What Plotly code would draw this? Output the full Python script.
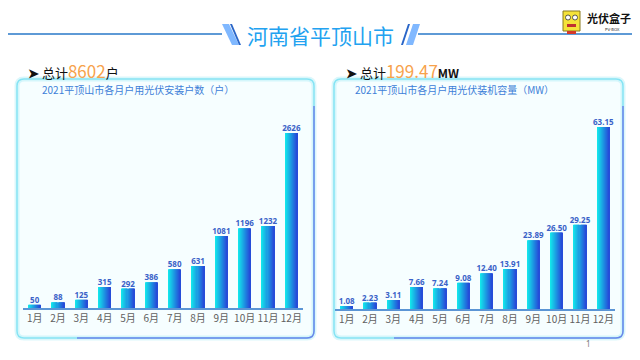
import plotly.graph_objects as go

months = ["1月", "2月", "3月", "4月", "5月", "6月", "7月", "8月", "9月", "10月", "11月", "12月"]
households = [50, 88, 125, 315, 292, 386, 580, 631, 1081, 1196, 1232, 2626]
capacity_mw = [1.08, 2.23, 3.11, 7.66, 7.24, 9.08, 12.40, 13.91, 23.89, 26.50, 29.25, 63.15]
household_labels = [str(v) for v in households]
capacity_labels = [f"{v:.2f}" for v in capacity_mw]

title_text = "河南省平顶山市"
left_sub = "2021平顶山市各月户用光伏安装户数（户）"
right_sub = "2021平顶山市各月户用光伏装机容量（MW）"
total_households = "8602"
total_capacity = "199.47"

# the page body has an 8px margin, so the figure is drawn 8px in from the window corner
OFF = 8
W, H = 640 - OFF, 360 - OFF
FONT = "Noto Sans CJK SC, Noto Sans, sans-serif"


def px(x):
    return (x - OFF) / W


def py(y):
    return 1 - (y - OFF) / H


def lerp_color(c1, c2, t):
    a = [int(c1[i:i + 2], 16) for i in (1, 3, 5)]
    b = [int(c2[i:i + 2], 16) for i in (1, 3, 5)]
    r = [round(a[k] + (b[k] - a[k]) * t) for k in range(3)]
    return "#%02x%02x%02x" % tuple(r)


fig = go.Figure()
xs = list(range(len(months)))
N = 12
BW = 0.52
c_left, c_right = "#12ECEC", "#2646D8"


def add_bars(values, labels, xa, ya):
    for i in range(N):
        t = (i + 0.5) / N
        fig.add_trace(go.Bar(
            x=xs, y=values, width=BW / N, offset=-BW / 2 + i * BW / N,
            marker=dict(color=lerp_color(c_left, c_right, t), line=dict(width=0)),
            xaxis=xa, yaxis=ya, showlegend=False, hoverinfo="skip"))
    fig.add_trace(go.Scatter(
        x=xs, y=values, mode="text", text=labels, textposition="top center",
        textfont=dict(size=8, color="#3A62C8", family="Noto Sans, sans-serif", weight="bold"),
        xaxis=xa, yaxis=ya, showlegend=False, hoverinfo="skip"))


add_bars(households, household_labels, "x", "y")
add_bars(capacity_mw, capacity_labels, "x2", "y2")

axis_common = dict(
    tickmode="array", tickvals=xs, ticktext=months, range=[-0.5, 11.5],
    showgrid=False, zeroline=False, showline=True, linecolor="#5B95D5", linewidth=1.5,
    ticks="", tickfont=dict(size=10, color="#606060", family=FONT), fixedrange=True)
yaxis_common = dict(visible=False, showgrid=False, zeroline=False, fixedrange=True)

fig.update_layout(
    width=W, height=H, margin=dict(l=0, r=0, t=0, b=0),
    paper_bgcolor="white", plot_bgcolor="rgba(0,0,0,0)",
    barmode="overlay",
    xaxis=dict(domain=[px(23), px(303)], anchor="y", **axis_common),
    yaxis=dict(domain=[py(308), py(100)], range=[0, 3121], anchor="x", **yaxis_common),
    xaxis2=dict(domain=[px(335), px(615)], anchor="y2", **axis_common),
    yaxis2=dict(domain=[py(309), py(100)], range=[0, 72.5], anchor="x2", **yaxis_common),
)


def rrect_path(x0, y0, x1, y1, r):
    X = lambda v: f"{px(v):.5f}"
    Y = lambda v: f"{py(v):.5f}"
    return (f"M {X(x0 + r)},{Y(y0)} L {X(x1 - r)},{Y(y0)} Q {X(x1)},{Y(y0)} {X(x1)},{Y(y0 + r)} "
            f"L {X(x1)},{Y(y1 - r)} Q {X(x1)},{Y(y1)} {X(x1 - r)},{Y(y1)} "
            f"L {X(x0 + r)},{Y(y1)} Q {X(x0)},{Y(y1)} {X(x0)},{Y(y1 - r)} "
            f"L {X(x0)},{Y(y0 + r)} Q {X(x0)},{Y(y0)} {X(x0 + r)},{Y(y0)} Z")


def br_path(x0, y0, x1, y1, r):
    X = lambda v: f"{px(v):.5f}"
    Y = lambda v: f"{py(v):.5f}"
    return (f"M {X(x1)},{Y(y0 + r + 20)} L {X(x1)},{Y(y1 - r)} Q {X(x1)},{Y(y1)} {X(x1 - r)},{Y(y1)} "
            f"L {X(x0 + 60)},{Y(y1)}")


shapes = []
# soft glow under left panel
for k, a in enumerate((0.10, 0.16, 0.24)):
    shapes.append(dict(type="rect", xref="paper", yref="paper", x0=px(92 + 3 * k), x1=px(163 - 3 * k),
                       y0=py(336 - k), y1=py(328 + k),
                       fillcolor=f"rgba(150,240,240,{a})", line=dict(width=0), layer="below"))

for (x0, y0, x1, y1) in [(17, 79, 314, 338), (334, 79, 623, 338)]:
    shapes.append(dict(type="path", path=rrect_path(x0, y0, x1, y1, 7), xref="paper", yref="paper",
                       line=dict(color="rgba(110,225,240,0.25)", width=5), fillcolor="#F6FEFF", layer="below"))
    shapes.append(dict(type="path", path=rrect_path(x0, y0, x1, y1, 7), xref="paper", yref="paper",
                       line=dict(color="#86E4F4", width=1.5), fillcolor="rgba(0,0,0,0)", layer="below"))
    shapes.append(dict(type="path", path=br_path(x0, y0, x1, y1, 7), xref="paper", yref="paper",
                       line=dict(color="#6D86EA", width=1.5), layer="below"))

# header lines
shapes.append(dict(type="line", xref="paper", yref="paper", x0=0, x1=px(222), y0=py(34), y1=py(34),
                   line=dict(color="#2878C8", width=1.5)))
shapes.append(dict(type="line", xref="paper", yref="paper", x0=px(418), x1=1, y0=py(34), y1=py(34),
                   line=dict(color="#2878C8", width=1.5)))


def para(xt0, xt1, xb0, xb1, yt, yb, color):
    return dict(type="path", xref="paper", yref="paper",
                path=f"M {px(xt0):.5f},{py(yt):.5f} L {px(xt1):.5f},{py(yt):.5f} L {px(xb1):.5f},{py(yb):.5f} L {px(xb0):.5f},{py(yb):.5f} Z",
                fillcolor=color, line=dict(width=0))


# left "\\" slashes
shapes.append(para(222, 229, 232, 239, 24, 45, "#80B8FF"))
shapes.append(para(230, 232, 239, 241, 24, 45, "#2A66C8"))
# right "//" slashes
shapes.append(para(408, 410, 401, 403, 24, 45, "#2A66C8"))
shapes.append(para(413, 420, 406, 413, 24, 45, "#80B8FF"))

# logo
shapes.append(dict(type="rect", xref="paper", yref="paper", x0=px(563), x1=px(580), y0=py(31), y1=py(11),
                   fillcolor="#F5E23A", line=dict(color="#8A7A20", width=1)))
shapes.append(dict(type="rect", xref="paper", yref="paper", x0=px(567), x1=px(576), y0=py(34), y1=py(31),
                   fillcolor="#D43A2A", line=dict(width=0)))
for cx in (568, 575):
    shapes.append(dict(type="circle", xref="paper", yref="paper", x0=px(cx - 2.5), x1=px(cx + 2.5),
                       y0=py(20), y1=py(15), fillcolor="white", line=dict(color="#333", width=0.8)))
shapes.append(dict(type="rect", xref="paper", yref="paper", x0=px(567), x1=px(576), y0=py(27), y1=py(24),
                   fillcolor="#C03030", line=dict(width=0)))

fig.update_layout(shapes=shapes)

ann = []
ann.append(dict(x=px(320), y=py(35), xref="paper", yref="paper", text=title_text, showarrow=False,
                font=dict(size=21, color="#22A2F0", family=FONT), xanchor="center", yanchor="middle"))
ann.append(dict(x=px(585), y=py(18), xref="paper", yref="paper", text="<b>光伏盒子</b>", showarrow=False,
                font=dict(size=11, color="#111", family=FONT), xanchor="left", yanchor="middle"))
ann.append(dict(x=px(622), y=py(29), xref="paper", yref="paper", text="PV-BOX", showarrow=False,
                font=dict(size=4, color="#333", family="DejaVu Sans"), xanchor="right", yanchor="middle"))

ann.append(dict(x=px(26), y=py(70), xref="paper", yref="paper",
                text=f"<b>➤</b> 总计<span style='color:#F7A24C;font-size:17px'>{total_households}</span>户",
                showarrow=False, font=dict(size=13, color="#111", family=FONT), xanchor="left", yanchor="middle"))
ann.append(dict(x=px(344), y=py(70), xref="paper", yref="paper",
                text=f"<b>➤</b> 总计<span style='color:#F7A24C;font-size:17px'>{total_capacity}</span><b style='font-size:12px'>MW</b>",
                showarrow=False, font=dict(size=13, color="#111", family=FONT), xanchor="left", yanchor="middle"))
ann.append(dict(x=px(40), y=py(90), xref="paper", yref="paper", text=left_sub, showarrow=False,
                font=dict(size=10, color="#3D80D8", family=FONT), xanchor="left", yanchor="middle"))
ann.append(dict(x=px(353), y=py(90), xref="paper", yref="paper", text=right_sub, showarrow=False,
                font=dict(size=10, color="#3D80D8", family=FONT), xanchor="left", yanchor="middle"))
ann.append(dict(x=px(588), y=py(343), xref="paper", yref="paper", text="1", showarrow=False,
                font=dict(size=8, color="#777", family="Noto Sans"), xanchor="center", yanchor="middle"))
fig.update_layout(annotations=ann)

fig.write_html("out.html")
